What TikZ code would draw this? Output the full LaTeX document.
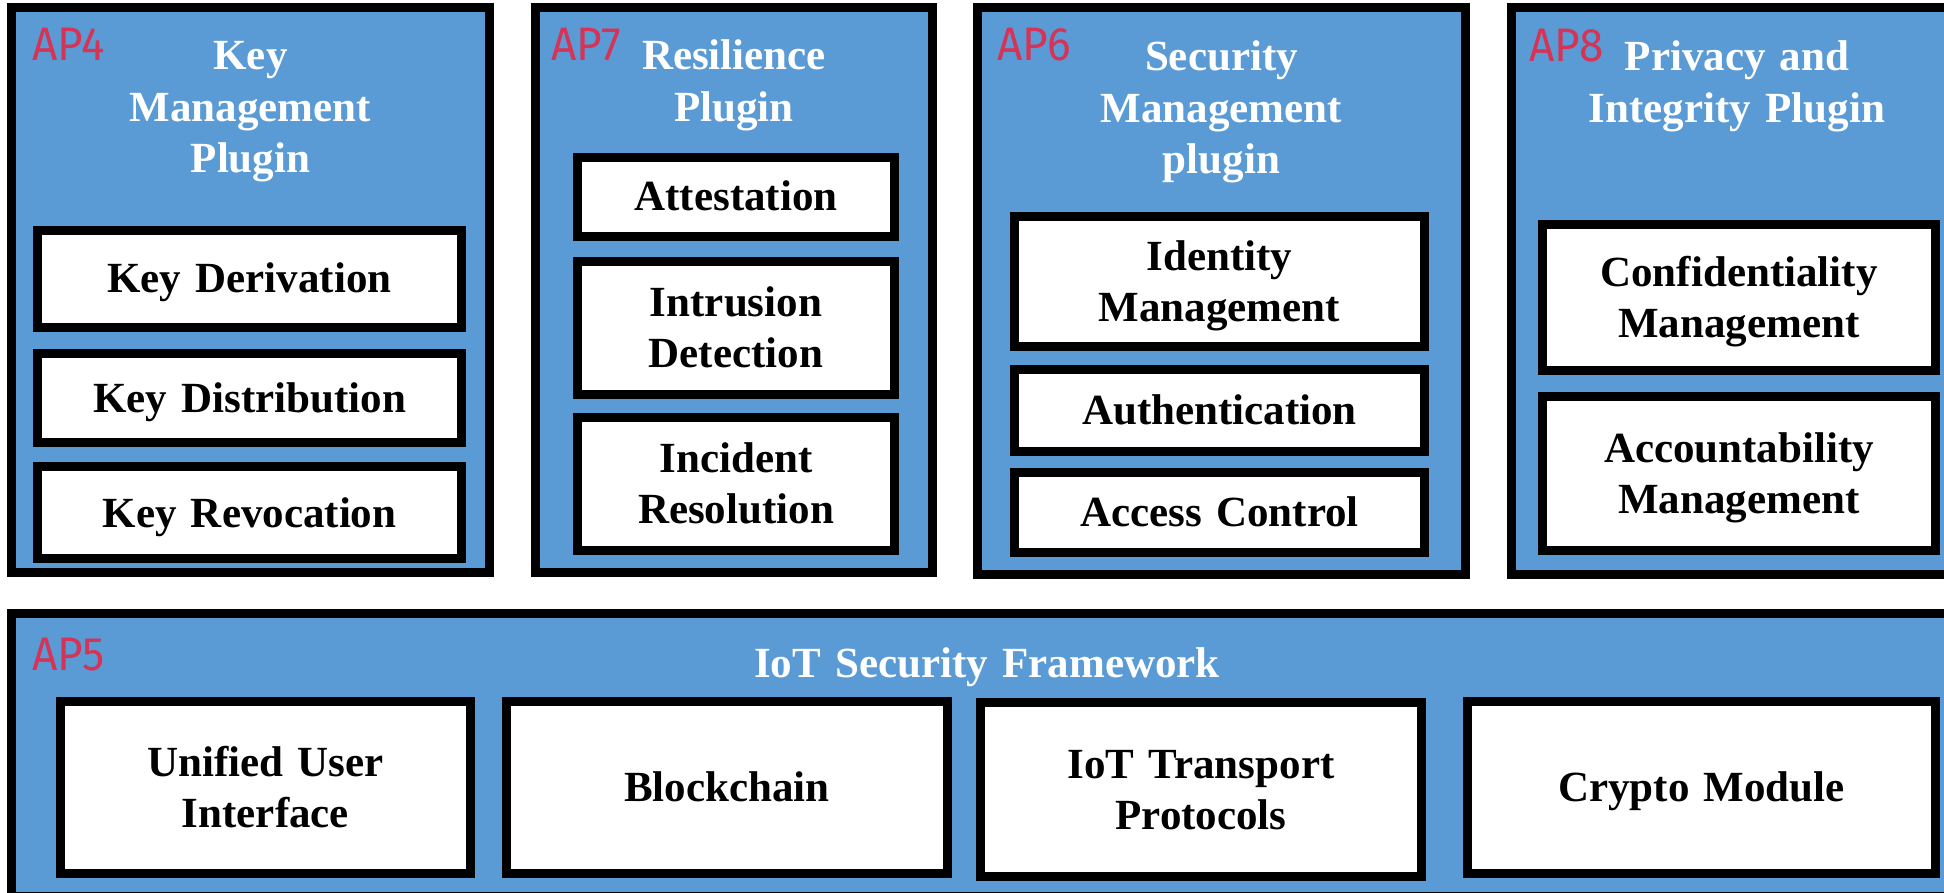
\documentclass[tikz,border=0pt]{standalone}
\usepackage{fontspec}
\setmainfont{Liberation Serif}
\newfontfamily\apfont[FakeStretch=0.94]{Fira Sans}
\usetikzlibrary{calc}
\definecolor{boxblue}{RGB}{91,155,213}
\definecolor{apred}{RGB}{214,52,86}
\tikzset{
  outerbox/.style={draw=black, fill=boxblue, line width=9pt, inner sep=0pt, outer sep=0pt},
  childbox/.style={draw=black, fill=white, line width=9pt, inner sep=0pt, outer sep=0pt},
  ttl/.style={text=white, font=\bfseries\fontsize{43}{51.5}\selectfont, anchor=base, align=center, inner sep=0pt, text width=460pt},
  itemtext/.style={text=black, font=\bfseries\fontsize{43}{51}\selectfont, anchor=base, align=center, inner sep=0pt, text width=460pt},
  aplbl/.style={text=apred, font=\apfont\fontsize{47}{47}\selectfont, anchor=base west, inner sep=0pt},
}
% name, style, left, top, right, bottom (outer edges, in px, y downward)
\newcommand\mybox[6]{%
  \node[#2, minimum width={#5-#3-9}, minimum height={#6-#4-9}] (#1) at ({(#3+#5)/2},{(#4+#6)/2}) {};}
\begin{document}
\begin{tikzpicture}[x=1pt,y=-1pt]
\useasboundingbox (0,0) rectangle (1944,893);
\fill[white] (0,0) rectangle (1944,893);
\clip (0,0) rectangle (1944,893);

% ---------- top row containers ----------
\mybox{ap4}{outerbox}{7}{3}{494}{577}
\mybox{ap7}{outerbox}{531}{3}{937}{577}
\mybox{ap6}{outerbox}{973}{3}{1470}{579}
\mybox{ap8}{outerbox}{1507}{3}{1971}{579}
% ---------- bottom container ----------
\mybox{ap5}{outerbox}{7}{609}{1971}{901}

% ---------- AP4 children ----------
\mybox{kder}{childbox}{33}{226}{466}{332}
\mybox{kdis}{childbox}{33}{349}{466}{447}
\mybox{krev}{childbox}{33}{462}{466}{563}
% ---------- AP7 children ----------
\mybox{att}{childbox}{573}{153}{899}{241}
\mybox{intr}{childbox}{573}{257}{899}{399}
\mybox{inc}{childbox}{573}{413}{899}{555}
% ---------- AP6 children ----------
\mybox{idm}{childbox}{1010}{212}{1429}{351}
\mybox{auth}{childbox}{1010}{365}{1429}{456}
\mybox{acc}{childbox}{1010}{468}{1429}{557}
% ---------- AP8 children ----------
\mybox{conf}{childbox}{1538}{220}{1940}{375}
\mybox{acct}{childbox}{1538}{392}{1940}{555}
% ---------- AP5 children ----------
\mybox{uui}{childbox}{56}{697}{475}{878}
\mybox{bc}{childbox}{502}{697}{952}{878}
\mybox{itp}{childbox}{976}{698}{1426}{881}
\mybox{cm}{childbox}{1463}{697}{1940}{878}

% ---------- titles ----------
\node[ttl] (t4) at (250.5,70) {Key\\Management\\Plugin};
\node[ttl] (t7) at (734,70) {Resilience\\Plugin};
\node[ttl] (t6) at (1221.5,71) {Security\\Management\\plugin};
\node[ttl] (t8) at (1737,71) {Privacy and\\Integrity Plugin};
\node[ttl, text width=1200pt] (t5) at (987,677) {IoT Security Framework};

% ---------- AP labels ----------
\node[aplbl] (l4) at (32,61) {AP4};
\node[aplbl] (l7) at (551,61) {AP7};
\node[aplbl] (l6) at (997,61) {AP6};
\node[aplbl] (l8) at (1529,62) {AP8};
\node[aplbl] (l5) at (32,670) {AP5};

% ---------- child texts ----------
\node[itemtext] (x1) at (249.5,293) {Key Derivation};
\node[itemtext] (x2) at (249.5,412) {Key Distribution};
\node[itemtext] (x3) at (249.5,527) {Key Revocation};
\node[itemtext] (x4) at (736,211) {Attestation};
\node[itemtext] (x5) at (736,316.75) {Intrusion\\Detection};
\node[itemtext] (x6) at (736,472.75) {Incident\\Resolution};
\node[itemtext] (x7) at (1219.5,270.25) {Identity\\Management};
\node[itemtext] (x8) at (1219.5,424.75) {Authentication};
\node[itemtext] (x9) at (1219.5,526.75) {Access Control};
\node[itemtext] (x10) at (1739,286.25) {Confidentiality\\Management};
\node[itemtext] (x11) at (1739,462.25) {Accountability\\Management};
\node[itemtext] (x12) at (265.5,776.25) {Unified User\\Interface};
\node[itemtext] (x13) at (727,801.75) {Blockchain};
\node[itemtext] (x14) at (1201,778.25) {IoT Transport\\Protocols};
\node[itemtext] (x15) at (1701.5,801.75) {Crypto Module};
\end{tikzpicture}
\end{document}
